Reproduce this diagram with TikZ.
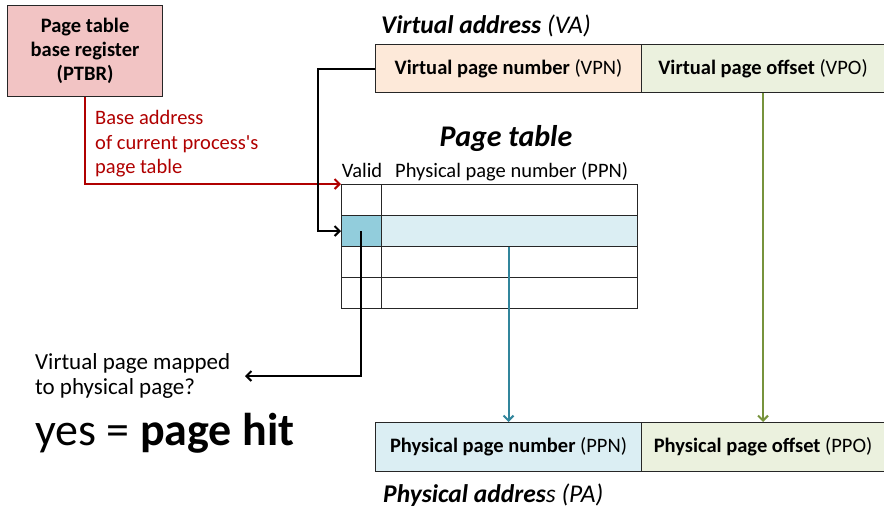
\documentclass[tikz,border=0pt]{standalone}
\usepackage{fontspec}
\setmainfont{Carlito}
\newfontfamily\plainquote{Carlito}
\usetikzlibrary{arrows.meta}
\definecolor{ptbrfill}{RGB}{242,196,196}
\definecolor{vpnfill}{RGB}{253,233,217}
\definecolor{offfill}{RGB}{235,241,222}
\definecolor{ppnfill}{RGB}{219,238,243}
\definecolor{validfill}{RGB}{146,205,220}
\definecolor{basered}{RGB}{176,0,0}
\definecolor{tealline}{RGB}{49,133,156}
\definecolor{greenline}{RGB}{119,147,60}
\newcommand{\fs}[1]{\fontsize{#1}{#1}\selectfont}
\begin{document}
\begin{tikzpicture}[x=1pt,y=-1pt,
  box/.style={draw=black!85, line width=1.1pt, inner sep=0pt, anchor=north west, font=\fs{20.5}},
  cell/.style={draw=black!85, line width=1pt, inner sep=0pt, anchor=north west, minimum height=31pt},
  conn/.style={line width=2pt, -{Straight Barb[length=5pt,width=10pt,line width=2pt]}},
  lbl/.style={inner sep=0pt, font=\fs{20.5}}]
\useasboundingbox (0,0) rectangle (884,507);

% page table base register
\node[box, fill=ptbrfill, minimum width=155pt, minimum height=91pt, align=center,
      font=\bfseries\fontsize{20.5}{24}\selectfont] (ptbr) at (7,5) {Page table\\base register\\(PTBR)};
\node[lbl, anchor=north west, align=left, text=basered, font=\fontsize{20.5}{24.5}\selectfont]
  (base) at (95,110.5) {Base address\\of current process{\plainquote '}s\\page table};

% virtual address
\node[lbl, anchor=base west, font=\fs{25.5}] (vatitle) at (381,33) {\textbf{\textit{Virtual address}} \textit{(VA)}};
\node[box, fill=vpnfill, minimum width=266pt, minimum height=48pt] (vpn) at (375,44) {\textbf{Virtual page number} (VPN)};
\node[box, fill=offfill, minimum width=243pt, minimum height=48pt] (vpo) at (641,44) {\textbf{Virtual page offset} (VPO)};

% page table
\node[lbl, anchor=base, font=\bfseries\itshape\fs{30}] (pttitle) at (506,146) {Page table};
\node[lbl, anchor=base] (hvalid) at (362,177) {Valid};
\node[lbl, anchor=base west] (hppn) at (395,177) {Physical page number (PPN)};
\foreach \r in {0,1,2,3}{
  \node[cell, minimum width=39.5pt] (v\r) at (341,184+31*\r) {};
  \node[cell, minimum width=256pt] (p\r) at (380.5,184+31*\r) {};
}
\node[cell, fill=validfill, minimum width=39.5pt] at (v1.north west) {};
\node[cell, fill=ppnfill, minimum width=256pt] at (p1.north west) {};

% physical address
\node[box, fill=ppnfill, minimum width=266pt, minimum height=49pt] (ppa) at (375,422) {\textbf{Physical page number} (PPN)};
\node[box, fill=offfill, minimum width=243pt, minimum height=49pt] (ppo) at (641,422) {\textbf{Physical page offset} (PPO)};
\node[lbl, anchor=base west, font=\fs{25.5}] (patitle) at (383,502) {\textit{\textbf{Physical addres}s (PA)}};

% question and result
\node[lbl, anchor=north west, align=left, font=\fontsize{23}{25}\selectfont] (question) at (35,353.5) {Virtual page mapped\\to physical page?};
\node[lbl, anchor=base west, font=\fs{46}] (result) at (35,445) {yes = \textbf{page hit}};
\coordinate (qtip) at (245,376);

% connectors
\draw[conn, basered] (ptbr.south) |- (v0.north west);
\draw[conn, black] (vpn.west) -- ++(-57,0) |- (v1.west);
\draw[conn, black] (v1.center) |- (qtip);
\draw[conn, tealline] (ppa.north |- p1.south) -- (ppa.north);
\draw[conn, greenline] (vpo.south) -- (ppo.north);
\end{tikzpicture}
\end{document}
